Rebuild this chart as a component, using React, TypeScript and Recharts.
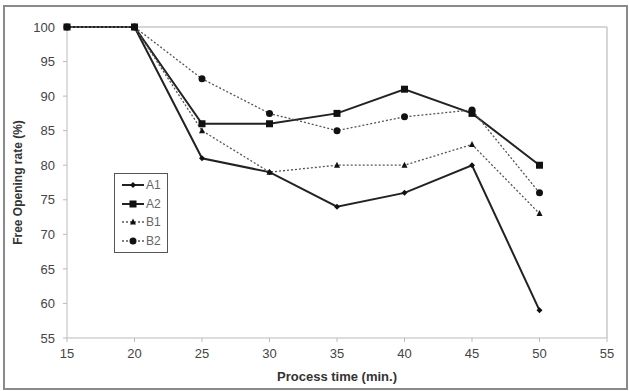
import React from "react";
import { LineChart, Line, XAxis, YAxis, ReferenceLine } from "recharts";

const times = [15, 20, 25, 30, 35, 40, 45, 50];
const a1 = [100, 100, 81, 79, 74, 76, 80, 59];
const a2 = [100, 100, 86, 86, 87.5, 91, 87.5, 80];
const b1 = [100, 100, 85, 79, 80, 80, 83, 73];
const b2 = [100, 100, 92.5, 87.5, 85, 87, 88, 76];
const xTicks = [15, 20, 25, 30, 35, 40, 45, 50, 55];
const yTicks = [55, 60, 65, 70, 75, 80, 85, 90, 95, 100];

const data = times.map((t, i) => ({ t, A1: a1[i], A2: a2[i], B1: b1[i], B2: b2[i] }));

type Shape = "diamond" | "square" | "triangle" | "circle";

const SERIES: { key: string; shape: Shape; dashed: boolean }[] = [
  { key: "A1", shape: "diamond", dashed: false },
  { key: "A2", shape: "square", dashed: false },
  { key: "B1", shape: "triangle", dashed: true },
  { key: "B2", shape: "circle", dashed: true },
];

const FONT = "'Liberation Sans', Arial, sans-serif";

function Marker({ cx, cy, shape }: { cx: number; cy: number; shape: Shape }) {
  if (cx == null || cy == null) return null;
  switch (shape) {
    case "diamond":
      return <polygon points={`${cx},${cy - 3} ${cx + 3},${cy} ${cx},${cy + 3} ${cx - 3},${cy}`} fill="#111" />;
    case "square":
      return <rect x={cx - 3.5} y={cy - 3.5} width={7} height={7} fill="#111" />;
    case "triangle":
      return <polygon points={`${cx},${cy - 3.5} ${cx + 3},${cy + 2.5} ${cx - 3},${cy + 2.5}`} fill="#111" />;
    default:
      return <circle cx={cx} cy={cy} r={3.5} fill="#111" />;
  }
}

// legend box sits inside the plot, lower left
function LegendBox() {
  return (
    <div
      style={{
        position: "absolute",
        left: 114,
        top: 173,
        border: "1px solid #555",
        background: "#fff",
        padding: "2px 6px 2px 6px",
        width: 40,
        fontFamily: FONT,
        fontSize: 12,
        color: "#666",
      }}
    >
      {SERIES.map((s) => (
        <div key={s.key} style={{ display: "flex", alignItems: "center", height: 18.5 }}>
          <svg width={24} height={12}>
            <line
              x1={1}
              x2={23}
              y1={6}
              y2={6}
              stroke={s.dashed ? "#555" : "#222"}
              strokeWidth={s.dashed ? 1.3 : 2}
              strokeDasharray={s.dashed ? "2 2" : undefined}
            />
            <Marker cx={12} cy={6} shape={s.shape} />
          </svg>
          <span style={{ marginLeft: 1 }}>{s.key}</span>
        </div>
      ))}
    </div>
  );
}

export default function App() {
  return (
    <div style={{ position: "absolute", left: 0, top: 0, width: 629, height: 391, background: "#fff" }}>
      <div
        style={{
          position: "absolute",
          left: 3,
          top: 5,
          width: 621,
          height: 381,
          border: "2px solid #8a8a8a",
        }}
      />
      <LineChart
        width={629}
        height={391}
        data={data}
        margin={{ top: 27, right: 22, bottom: 25, left: 27 }}
        style={{ position: "absolute", left: 0, top: 0, fontFamily: FONT }}
      >
        <XAxis
          dataKey="t"
          type="number"
          domain={[15, 55]}
          ticks={xTicks}
          stroke="#bbb"
          tickSize={4}
          tickMargin={7}
          height={28}
          tick={{ fill: "#444", fontSize: 13 }}
          label={{
            value: "Process time (min.)",
            position: "insideBottom",
            offset: -15,
            style: { fill: "#333", fontSize: 13, fontWeight: "bold" },
          }}
        />
        <YAxis
          type="number"
          domain={[55, 100]}
          ticks={yTicks}
          stroke="#bbb"
          tickSize={4}
          tickMargin={8}
          width={40}
          tick={{ fill: "#444", fontSize: 13 }}
          label={{
            value: "Free Opening rate (%)",
            angle: -90,
            position: "insideLeft",
            offset: -9,
            style: { fill: "#333", fontSize: 12, fontWeight: "bold", textAnchor: "middle" },
          }}
        />
        <ReferenceLine y={100} stroke="#c8c8c8" strokeWidth={1.5} />
        <ReferenceLine x={55} stroke="#c8c8c8" strokeWidth={1.5} />
        {SERIES.map((s) => (
          <Line
            key={s.key}
            dataKey={s.key}
            type="linear"
            stroke={s.dashed ? "#555" : "#222"}
            strokeWidth={s.dashed ? 1.3 : 2}
            strokeDasharray={s.dashed ? "2 2" : undefined}
            dot={(p: any) => <Marker key={`${s.key}-${p.index}`} cx={p.cx} cy={p.cy} shape={s.shape} />}
            isAnimationActive={false}
          />
        ))}
      </LineChart>
      <LegendBox />
    </div>
  );
}
